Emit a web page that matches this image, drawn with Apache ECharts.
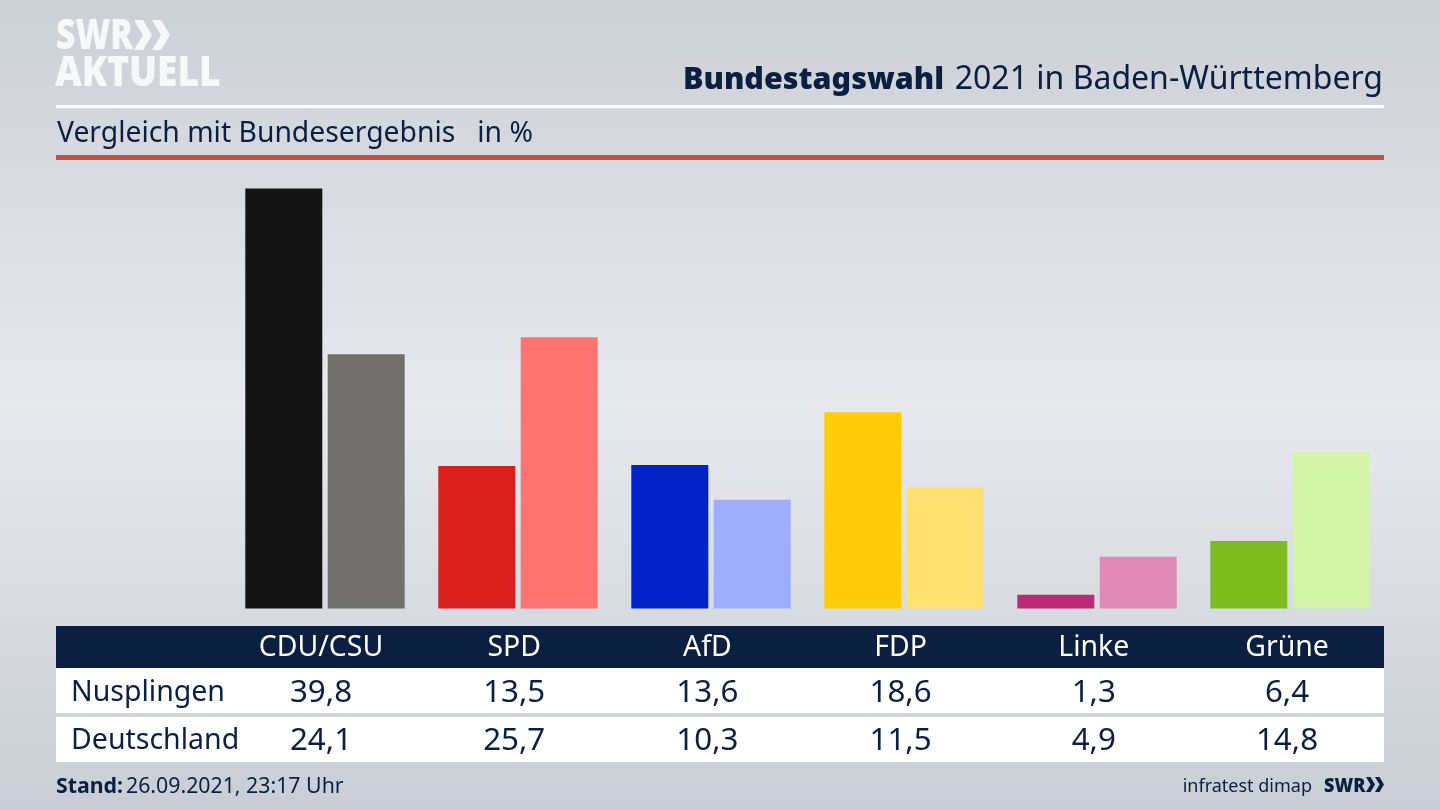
<!DOCTYPE html>
<html>
<head>
<meta charset="utf-8">
<style>
  html, body { margin: 0; padding: 0; }
  #chart { width: 1440px; height: 810px; }
</style>
<script src="https://cdn.jsdelivr.net/npm/echarts@6/dist/echarts.min.js"></script>
</head>
<body>
<div id="chart"></div>
<script>
var parties = ["CDU/CSU", "SPD", "AfD", "FDP", "Linke", "Grüne"];
var nusplingen = [39.8, 13.5, 13.6, 18.6, 1.3, 6.4];
var deutschland = [24.1, 25.7, 10.3, 11.5, 4.9, 14.8];
var nusplingenColors = ["#141414", "#d81f1c", "#0022c8", "#ffcc0a", "#bb2a76", "#7abd1c"];
var deutschlandColors = ["#72706c", "#ff7370", "#9fadff", "#ffe070", "#e08ab8", "#d3f5a8"];
var rowNames = ["Nusplingen", "Deutschland"];

var navy = "#0b2040";
var logoWhite = "#f7f8f9";
var font = "'Noto Sans', sans-serif";

function comma(v) {
    return v.toFixed(1).replace(".", ",");
}

function text(x, y, str, size, align, color, weight, scaleX) {
    return {
        type: "text",
        x: x,
        y: y,
        scaleX: scaleX || 1,
        style: {
            text: str,
            fontFamily: font,
            fontSize: size,
            fontWeight: weight || "normal",
            fill: color || navy,
            align: align || "left",
            verticalAlign: "middle"
        }
    };
}

function rect(x, y, w, h, color) {
    return { type: "rect", shape: { x: x, y: y, width: w, height: h }, style: { fill: color } };
}

// the two arrows of the SWR logo
function chevrons(x, y, h, color) {
    var w = h * 0.3, t = h * 0.3, out = [];
    [0, 0.6].forEach(function(k) {
        var x0 = x + k * h;
        out.push({
            type: "polygon",
            shape: { points: [[x0, y], [x0 + t, y], [x0 + t + w, y + h / 2], [x0 + t, y + h], [x0, y + h], [x0 + w, y + h / 2]] },
            style: { fill: color }
        });
    });
    return out;
}

var graphics = [
    rect(56, 105, 1328, 3, "#ffffff"),
    rect(56, 155, 1328, 5, "#c9503e"),
    rect(56, 626, 1328, 42, navy),
    rect(56, 668, 1328, 45, "#ffffff"),
    rect(56, 717, 1328, 45, "#ffffff"),
    text(56, 37, "SWR", 42, "left", logoWhite, "900", 0.8),
    text(55, 74, "AKTUELL", 43, "left", logoWhite, "900", 0.86),
    text(1383, 80, "2021 in Baden-Württemberg", 32),
    text(944, 80, "Bundestagswahl", 30.5, "right", navy, "900"),
    text(57, 134, "Vergleich mit Bundesergebnis   in %", 28.3),
    text(56, 787, "Stand:", 21.3, "left", navy, "bold"),
    text(126, 787, "26.09.2021, 23:17 Uhr", 21.3),
    text(1312, 787, "infratest dimap", 18, "right"),
    text(1324, 787, "SWR", 19, "left", navy, "900", 0.95),
    text(71, 693, rowNames[0], 28.5),
    text(71, 741, rowNames[1], 28.5)
];
graphics[7].style.align = "right";
graphics = graphics.concat(chevrons(134, 20, 30, logoWhite), chevrons(1366, 777, 15, navy));

parties.forEach(function(name, i) {
    var cx = 321 + i * 193.2;
    graphics.push(text(cx, 648, name, 28.4, "center", "#ffffff"));
    graphics.push(text(cx, 693, comma(nusplingen[i]), 31.3, "center"));
    graphics.push(text(cx, 741, comma(deutschland[i]), 31.3, "center"));
});

var chart = echarts.init(document.getElementById("chart"));
chart.setOption({
    animation: false,
    backgroundColor: new echarts.graphic.LinearGradient(0, 0, 0, 1, [
        { offset: 0, color: "#ccd0d7" },
        { offset: 0.5, color: "#e7e9ed" },
        { offset: 1, color: "#c9cdd5" }
    ]),
    grid: { left: 228.5, top: 186.5, width: 1158, height: 422 },
    xAxis: {
        type: "category",
        data: parties,
        axisLine: { show: false },
        axisTick: { show: false },
        axisLabel: { show: false }
    },
    yAxis: { type: "value", min: 0, max: 40, show: false, splitLine: { show: false } },
    series: [
        {
            name: rowNames[0],
            type: "bar",
            data: nusplingen,
            barWidth: 77,
            barGap: "7%",
            itemStyle: { color: function(p) { return nusplingenColors[p.dataIndex]; } }
        },
        {
            name: rowNames[1],
            type: "bar",
            data: deutschland,
            barWidth: 77,
            itemStyle: { color: function(p) { return deutschlandColors[p.dataIndex]; } }
        }
    ],
    graphic: { elements: graphics }
});
</script>
</body>
</html>
